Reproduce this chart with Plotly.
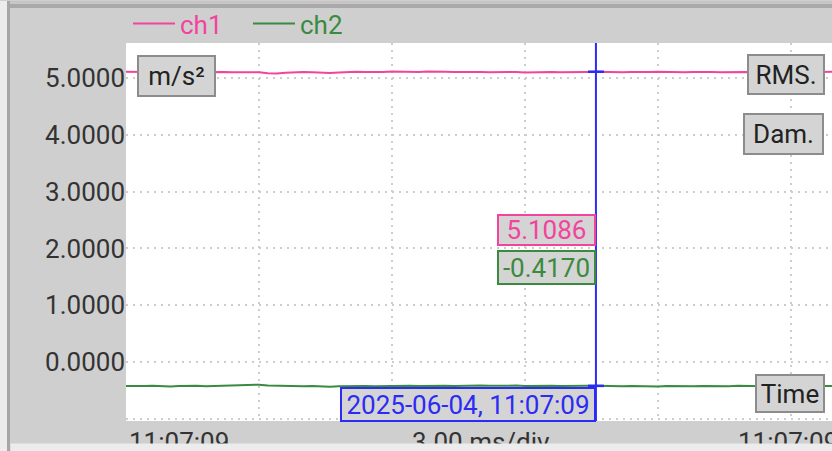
import numpy as np
import plotly.graph_objects as go

# ---- data -------------------------------------------------------------
sample_period_ms = 0.2
ch1 = [5.108, 5.104, 5.110, 5.106, 5.101, 5.107, 5.112, 5.105, 5.099, 5.103,
       5.109, 5.104, 5.098, 5.102, 5.108, 5.101, 5.083, 5.076, 5.089, 5.100,
       5.106, 5.101, 5.095, 5.086, 5.097, 5.105, 5.110, 5.104, 5.099, 5.106,
       5.112, 5.107, 5.101, 5.105, 5.111, 5.115, 5.108, 5.102, 5.106, 5.112,
       5.106, 5.100, 5.104, 5.109, 5.103, 5.097, 5.102, 5.108, 5.104, 5.099,
       5.105, 5.111, 5.106, 5.1086, 5.102, 5.094, 5.099, 5.104, 5.098, 5.102,
       5.107, 5.101, 5.096, 5.100, 5.106, 5.110, 5.103, 5.098, 5.104, 5.109,
       5.105, 5.100, 5.093, 5.099, 5.105, 5.110, 5.106, 5.101, 5.107, 5.103, 5.108]
ch2 = [-0.421, -0.425, -0.419, -0.414, -0.420, -0.426, -0.418, -0.412, -0.417, -0.423,
       -0.419, -0.413, -0.408, -0.414, -0.402, -0.396, -0.409, -0.415, -0.411, -0.418,
       -0.424, -0.420, -0.427, -0.431, -0.425, -0.419, -0.413, -0.418, -0.424, -0.421,
       -0.416, -0.410, -0.415, -0.421, -0.414, -0.408, -0.413, -0.419, -0.412, -0.406,
       -0.411, -0.417, -0.413, -0.407, -0.412, -0.418, -0.414, -0.409, -0.415, -0.420,
       -0.416, -0.411, -0.414, -0.4170, -0.422, -0.428, -0.424, -0.419, -0.425, -0.431,
       -0.426, -0.420, -0.425, -0.430, -0.424, -0.419, -0.423, -0.428, -0.422, -0.417,
       -0.421, -0.427, -0.423, -0.418, -0.414, -0.420, -0.425, -0.419, -0.413, -0.418, -0.423]
cursor_index = 53
timestamp = "2025-06-04, 11:07:09"
time_start_label = "11:07:09"
time_end_label = "11:07:09"
timebase_label = "3.00 ms/div"
unit_label = "m/s²"
y_ticks = [-1, 0, 1, 2, 3, 4, 5]
x_grid = [3, 6, 9, 12, 15]

t = np.arange(len(ch1)) * sample_period_ms
t_cursor = t[cursor_index]
v1 = ch1[cursor_index]
v2 = ch2[cursor_index]

# ---- styling ----------------------------------------------------------
W, H = 832, 451
L, R, T, B = 126, 0, 42, 30
PW, PH = W - L - R, H - T - B
X_MAX = 15.925
PINK = "#f2439d"
GREEN = "#3a8a3f"
BLUE = "#2b2bf5"
PANEL = "#cfcfcf"
BOX = "#d4d4d4"
BOXLINE = "#8c8c8c"
GRID = "#cdcdcd"
FONT = "Roboto"
FS = 26


def px(x):
    return (x - L) / PW


def py(y):
    return (H - B - y) / PH


fig = go.Figure()
fig.add_trace(go.Scatter(x=t, y=ch1, mode="lines", line=dict(color=PINK, width=2),
                         name=f"<span style='color:{PINK}'>ch1</span>"))
fig.add_trace(go.Scatter(x=t, y=ch2, mode="lines", line=dict(color=GREEN, width=2),
                         name=f"<span style='color:{GREEN}'>ch2</span>"))

shapes = []
# window frame: top band and left edge
shapes.append(dict(type="rect", xref="paper", yref="paper", x0=px(0), x1=px(W), y0=py(3), y1=py(0),
                   fillcolor="#c6c6c6", line_width=0, layer="below"))
shapes.append(dict(type="rect", xref="paper", yref="paper", x0=px(0), x1=px(W), y0=py(7), y1=py(3),
                   fillcolor="#a9a9a9", line_width=0, layer="below"))
shapes.append(dict(type="rect", xref="paper", yref="paper", x0=px(0), x1=px(7), y0=py(H), y1=py(0),
                   fillcolor="#ececec", line_width=0, layer="below"))
shapes.append(dict(type="rect", xref="paper", yref="paper", x0=px(7), x1=px(10), y0=py(H), y1=py(0),
                   fillcolor="#a6a6a6", line_width=0, layer="below"))
# cursor line and crosshair ticks
shapes.append(dict(type="line", xref="x", yref="paper", x0=t_cursor, x1=t_cursor, y0=0, y1=1,
                   line=dict(color=BLUE, width=2)))
for v in (v1, v2):
    shapes.append(dict(type="line", xref="x", yref="y", x0=t_cursor - 0.18, x1=t_cursor + 0.18,
                       y0=v, y1=v, line=dict(color=BLUE, width=2.5)))

ann = []


def box(text, left, top, w, h, color="#222222", border=BOXLINE, bg=BOX):
    ann.append(dict(text=text, xref="paper", yref="paper", x=px(left), y=py(top),
                    xanchor="left", yanchor="top", width=w, height=h, showarrow=False,
                    bgcolor=bg, bordercolor=border, borderwidth=2, borderpad=0,
                    font=dict(family=FONT, size=FS, color=color)))


box(unit_label, 137, 54, 75, 38)
box("RMS.", 747, 53, 74, 37)
box("Dam.", 743, 112, 77, 38)
box("Time", 755, 374, 66, 35)

# cursor readouts, right-aligned to the cursor line
for text, top, h, col in ((f"{v1:.4f}", 213, 28, PINK), (f"{v2:.4f}", 250, 31, GREEN)):
    ann.append(dict(text=text, xref="x", yref="paper", x=t_cursor, y=py(top), xanchor="right",
                    yanchor="top", width=95, height=h, showarrow=False, bgcolor=BOX,
                    bordercolor=col, borderwidth=2, borderpad=0, font=dict(family=FONT, size=FS, color=col)))
ann.append(dict(text=timestamp, xref="x", yref="paper", x=t_cursor, y=py(387), xanchor="right",
                yanchor="top", width=252, height=31, showarrow=False, bgcolor=BOX,
                bordercolor=BLUE, borderwidth=2, borderpad=0, font=dict(family=FONT, size=FS, color=BLUE)))

# time axis labels
for text, x, anchor in ((time_start_label, 127, "left"), (timebase_label, 481, "center"),
                        (time_end_label, 736, "left")):
    ann.append(dict(text=text, xref="paper", yref="paper", x=px(x), y=py(442), xanchor=anchor,
                    yanchor="middle", showarrow=False, font=dict(family=FONT, size=FS, color="#333333")))
# lower panel edge drawn over the time labels
ann.append(dict(text=" ", xref="paper", yref="paper", x=px(10), y=py(443), xanchor="left", yanchor="top",
                width=W, height=12, showarrow=False, bgcolor="#ececec", borderpad=0))

fig.update_layout(
    width=W, height=H, margin=dict(l=L, r=R, t=T, b=B),
    paper_bgcolor=PANEL, plot_bgcolor="white",
    showlegend=True,
    legend=dict(orientation="h", x=px(128), xanchor="left", y=py(22), yanchor="middle",
                bgcolor="rgba(0,0,0,0)", font=dict(family=FONT, size=FS),
                itemwidth=42, entrywidth=63, entrywidthmode="pixels", itemclick=False),
    shapes=shapes, annotations=ann,
    xaxis=dict(range=[0, X_MAX], tickvals=x_grid, showticklabels=False, showline=False,
               zeroline=False, showgrid=True, gridcolor=GRID, griddash="2px,5px", gridwidth=1.5,
               fixedrange=True),
    yaxis=dict(range=[-1.035, 5.614], tickvals=y_ticks,
               ticktext=["" if v < 0 else f"{v:.4f}" for v in y_ticks],
               showline=False, zeroline=False, showgrid=True, gridcolor=GRID,
               griddash="2px,5px", gridwidth=1.5,
               tickfont=dict(family=FONT, size=FS, color="#333333"), ticks="", fixedrange=True),
)

fig.write_html("out.html")
